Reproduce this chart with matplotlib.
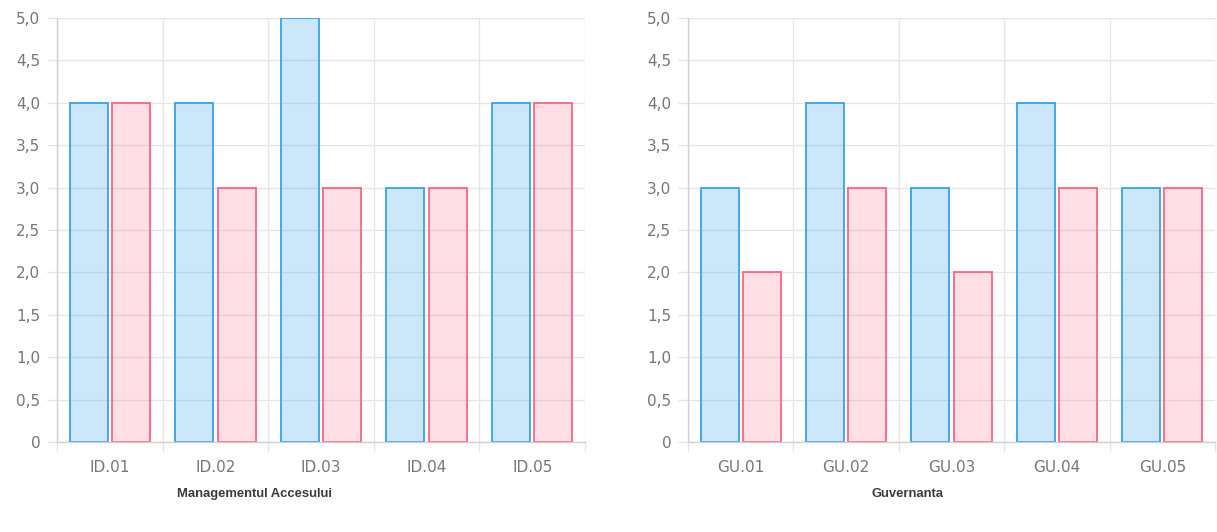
import matplotlib
matplotlib.use("Agg")
import matplotlib.pyplot as plt
import numpy as np
from matplotlib.ticker import FixedLocator, FuncFormatter

plt.rcParams['font.family'] = ['Liberation Sans', 'DejaVu Sans']

left_categories = ["ID.01", "ID.02", "ID.03", "ID.04", "ID.05"]
left_blue = [4, 4, 5, 3, 4]
left_pink = [4, 3, 3, 3, 4]
left_title = "Managementul Accesului"

right_categories = ["GU.01", "GU.02", "GU.03", "GU.04", "GU.05"]
right_blue = [3, 4, 3, 4, 3]
right_pink = [2, 3, 2, 3, 3]
right_title = "Guvernanta"

y_ticks = [0, 0.5, 1.0, 1.5, 2.0, 2.5, 3.0, 3.5, 4.0, 4.5, 5.0]

W, H = 1217, 532
fig = plt.figure(figsize=(W / 100, H / 100), dpi=100)

blue_edge = (54/255, 162/255, 235/255)
blue_fill = (54/255, 162/255, 235/255, 0.25)
pink_edge = (255/255, 99/255, 132/255)
pink_fill = (255/255, 99/255, 132/255, 0.2)
grid_c = "#e6e6e6"
tick_c = "#767676"
tick_font = ['DejaVu Sans']


def fmt(v, pos):
    if abs(v) < 1e-9:
        return "0"
    return f"{v:.1f}".replace(".", ",")


def draw(ax, cats, blue, pink):
    x = np.arange(len(cats))
    bw = 0.36
    ax.bar(x - 0.2, blue, width=bw, color=blue_fill, edgecolor=blue_edge, linewidth=1.3, zorder=3)
    ax.bar(x + 0.2, pink, width=bw, color=pink_fill, edgecolor=pink_edge, linewidth=1.3, zorder=3)
    ax.set_xlim(-0.5, len(cats) - 0.5)
    ax.set_ylim(0, 5)
    ax.yaxis.set_major_locator(FixedLocator(y_ticks))
    ax.yaxis.set_major_formatter(FuncFormatter(fmt))
    ax.set_xticks(x)
    ax.set_xticklabels(cats)
    ax.xaxis.set_minor_locator(FixedLocator(np.arange(-0.5, len(cats), 1.0)))
    ax.tick_params(axis='x', which='major', length=0, pad=13, labelsize=11, labelcolor=tick_c)
    ax.tick_params(axis='x', which='minor', length=7, color=grid_c, width=1)
    ax.tick_params(axis='y', which='major', length=7, color=grid_c, width=1, pad=5,
                   labelsize=11, labelcolor=tick_c)
    for lab in ax.get_xticklabels() + ax.get_yticklabels():
        lab.set_family(tick_font)
    ax.grid(True, which='major', axis='y', color=grid_c, linewidth=1, zorder=0)
    ax.grid(True, which='minor', axis='x', color=grid_c, linewidth=1, zorder=0)
    for s in ['top', 'right']:
        ax.spines[s].set_visible(False)
    for s in ['left', 'bottom']:
        ax.spines[s].set_color("#d0d0d0")
        ax.spines[s].set_linewidth(1)
        ax.spines[s].set_zorder(4)


ax1 = fig.add_axes([57 / W, 1 - 442 / H, (585 - 57) / W, (442 - 18) / H])
draw(ax1, left_categories, left_blue, left_pink)
ax2 = fig.add_axes([688 / W, 1 - 442 / H, (1215 - 688) / W, (442 - 18) / H])
draw(ax2, right_categories, right_blue, right_pink)

fig.text(254 / W, 1 - 494 / H, left_title, ha='center', va='center', fontsize=9.4,
         color="#3a3a3a", fontweight='bold')
fig.text(907 / W, 1 - 494 / H, right_title, ha='center', va='center', fontsize=9.4,
         color="#3a3a3a", fontweight='bold')

fig.savefig("out.png", dpi=100, facecolor="white")
